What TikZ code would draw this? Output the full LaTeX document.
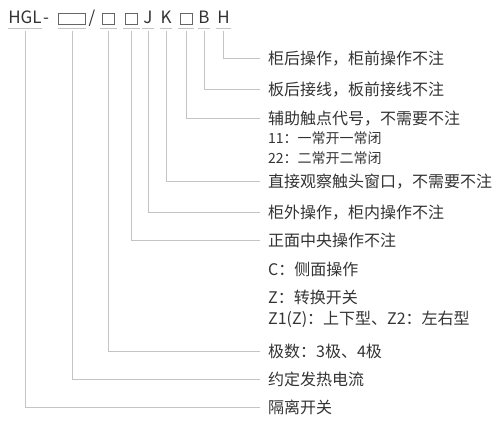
\documentclass[tikz,border=0pt]{standalone}
\usepackage{fontspec}
\setmainfont{Noto Sans CJK SC}
\usepackage{xcolor}
\usepackage{tikz}
\usetikzlibrary{positioning}
\definecolor{txtgray}{HTML}{333333}
\definecolor{boxgray}{HTML}{666666}
\definecolor{linegray}{HTML}{C4C4C4}
\newcommand{\codebox}[1]{{\color{boxgray}\setlength{\fboxsep}{0pt}\setlength{\fboxrule}{0.8pt}\fbox{\rule{0pt}{9.5pt}\hspace{#1}}}}

\begin{document}
\begin{tikzpicture}[
  x=1pt,
  y=-1pt,
  code/.style={anchor=south, inner xsep=0pt, inner ysep=4pt, text height=12pt, text depth=0pt, font=\fontsize{17}{20}\selectfont, text=txtgray},
  note/.style={anchor=west, inner xsep=8pt, inner ysep=0pt, text height=14.1pt, text depth=1.9pt, font=\fontsize{16}{19}\selectfont, text=txtgray},
  small/.style={note, text height=12.3pt, text depth=1.7pt, font=\fontsize{14}{17}\selectfont},
  uline/.style={draw=linegray, line width=0.8pt},
  lead/.style={draw=linegray, line width=0.8pt, shorten <=3pt}
]
  \useasboundingbox (0,0) rectangle (500,425);

  \node[code, minimum width=34pt] (hgl) at (25,28) {HGL};
  \node[code, anchor=south west, inner xsep=1pt] (dash) at (42,28) {-};
  \node[code, minimum width=28pt] (cur) at (72,28) {\codebox{26.4pt}};
  \node[code] (slash) at (92,28) {/};
  \node[code, minimum width=17pt] (pole) at (108.5,28) {\codebox{11.4pt}};
  \node[code, minimum width=17pt] (op) at (131.5,28) {\codebox{11.4pt}};
  \node[code, minimum width=11pt] (j) at (148,28) {J};
  \node[code, minimum width=12pt] (k) at (166,28) {K};
  \node[code, minimum width=16pt] (aux) at (186,28) {\codebox{11.4pt}};
  \node[code, minimum width=12pt] (b) at (204,28) {B};
  \node[code, minimum width=15pt] (h) at (223.5,28) {H};
  \foreach \n in {hgl,cur,pole,op,j,k,aux,b,h}
    \draw[uline] (\n.south west) -- (\n.south east);

  \node[note] (hlab) at (260,58) {柜后操作，柜前操作不注};
  \node[note] (blab) at (260,89) {板后接线，板前接线不注};
  \node[note] (auxlab) at (260,118) {辅助触点代号，不需要不注};
  \node[small] (aux1) at (260,138) {11：一常开一常闭};
  \node[small] (aux2) at (260,158) {22：二常开二常闭};
  \node[note] (klab) at (260,181) {直接观察触头窗口，不需要不注};
  \node[note] (jlab) at (260,212) {柜外操作，柜内操作不注};
  \node[note] (oplab) at (260,240) {正面中央操作不注};
  \node[note] (op1) at (260,269) {C：侧面操作};
  \node[note] (op2) at (260,297) {Z：转换开关};
  \node[note] (op3) at (260,318) {Z1(Z)：上下型、Z2：左右型};
  \node[note] (polelab) at (260,351) {极数：3极、4极};
  \node[note] (curlab) at (260,379) {约定发热电流};
  \node[note] (hgllab) at (260,407) {隔离开关};

  \draw[lead] (h.south) |- (hlab.west);
  \draw[lead] (b.south) |- (blab.west);
  \draw[lead] (aux.south) |- (auxlab.west);
  \draw[lead] (k.south) |- (klab.west);
  \draw[lead] (j.south) |- (jlab.west);
  \draw[lead] (op.south) |- (oplab.west);
  \draw[lead] (pole.south) |- (polelab.west);
  \draw[lead] (cur.south) |- (curlab.west);
  \draw[lead] (hgl.south) |- (hgllab.west);
\end{tikzpicture}
\end{document}
